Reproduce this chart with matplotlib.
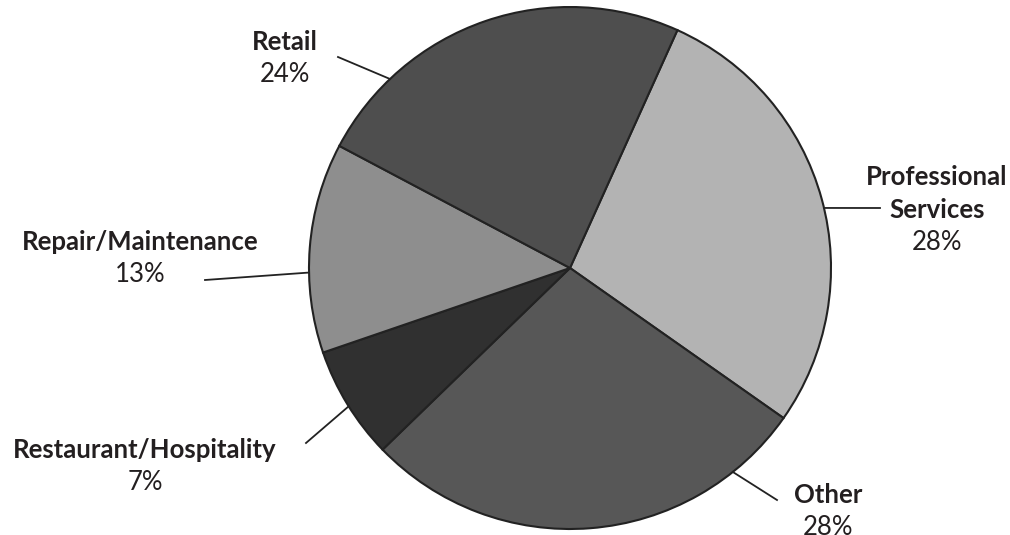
import numpy as np
import matplotlib.pyplot as plt

# ================== DATA ==================
labels = ["Professional\nServices", "Other", "Restaurant/Hospitality",
          "Repair/Maintenance", "Retail"]
shares = [28, 28, 7, 13, 24]
colors = ["#b3b3b3", "#575757", "#303030", "#8e8e8e", "#4e4e4e"]

# label placement: centre x and baseline of first line (pixels, y from top)
text_x = [937, 828, 145, 140, 285]
text_base = [185, 503, 458, 250, 50]
line_end = [(880, 208), (777, 500), (306, 443), (205, 280), (338, 57)]
rim_angle = [13.3, -51.4, -148.0, 181.0, 133.6]

W, H = 1010, 535
cx, cy, R = 570, 268, 261
txt = "#231f20"
step = 33

plt.rcParams['font.family'] = ['Lato', 'DejaVu Sans']

fig = plt.figure(figsize=(W / 100, H / 100), dpi=100)
ax = fig.add_axes([0, 0, 1, 1])

ax.pie(shares, colors=colors, startangle=65.7, counterclock=False,
       center=(cx, H - cy), radius=R, frame=True,
       wedgeprops=dict(edgecolor="#222222", linewidth=1.5))
ax.set_xlim(0, W)
ax.set_ylim(0, H)
ax.set_aspect('equal')
ax.axis('off')

for lab, val, tx, tb, (lx, ly), a in zip(labels, shares, text_x, text_base, line_end, rim_angle):
    ex = cx + R * np.cos(np.radians(a))
    ey = cy - R * np.sin(np.radians(a))
    ax.plot([lx, ex], [H - ly, H - ey], color="#222222", lw=1.3)
    lines = lab.split("\n")
    for i, line in enumerate(lines):
        ax.text(tx, H - (tb + step * i), line, ha='center', va='baseline',
                fontsize=18.5, fontweight='bold', color=txt)
    ax.text(tx, H - (tb + step * len(lines) - 1), f"{val}%", ha='center', va='baseline',
            fontsize=18.5, color=txt)

fig.savefig("out.png", dpi=100)
